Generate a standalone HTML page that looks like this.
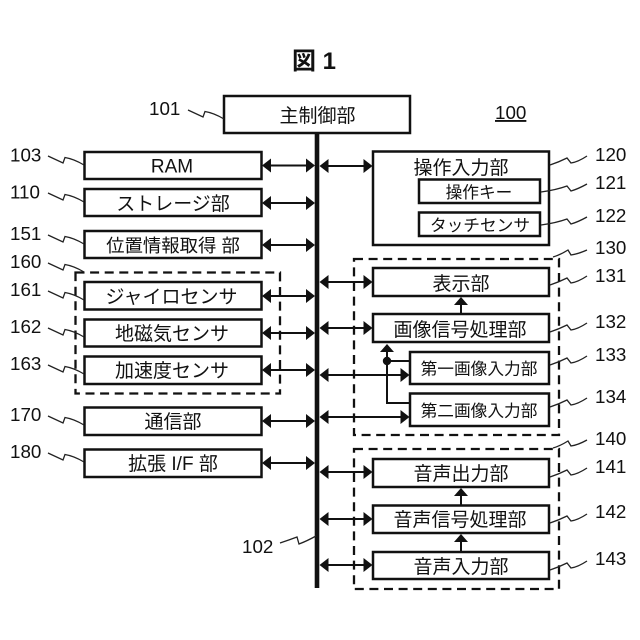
<!DOCTYPE html>
<html><head><meta charset="utf-8"><style>
html,body{margin:0;padding:0;background:#fff}
svg{display:block}
text{font-family:"Liberation Sans","Noto Sans CJK JP",sans-serif;fill:#111}
.b{fill:#fff;stroke:#111;stroke-width:2.5}
.d{fill:none;stroke:#111;stroke-width:2.3;stroke-dasharray:9 5.6}
.l{fill:none;stroke:#111;stroke-width:2}
.z{fill:none;stroke:#222;stroke-width:1.3}
.t{font-size:19px;text-anchor:middle}
.s{font-size:16.7px;text-anchor:middle}
.n{font-size:18.8px}
</style></head><body>
<svg width="640" height="640" viewBox="0 0 640 640" xmlns="http://www.w3.org/2000/svg">
<defs>
<g id="h2"><path d="M0 0l9-7v14zM53 0l-9-7v14z" fill="#111"/><path d="M5 0H48" stroke="#111" stroke-width="2"/></g>
<g id="h3"><path d="M0 0l9-7v14zM90 0l-9-7v14z" fill="#111"/><path d="M5 0H85" stroke="#111" stroke-width="2"/></g>
<path id="zl" d="M0 0L15 7L17 1.5Q26 3 36 9"/>
<path id="zr" d="M0 0Q9-3 17-7L21-2Q28-3 37-9"/>
<path id="zw" d="M0 0Q15-2 26-6L30-1Q37-3 46-8"/>
</defs>
<text x="292" y="69" style="font-size:24px;font-weight:bold">図 1</text>

<rect class="d" x="75.5" y="272.5" width="204.5" height="121"/>
<rect class="d" x="354" y="259" width="205" height="176"/>
<rect class="d" x="354" y="449" width="205" height="140"/>

<rect x="314.7" y="133" width="4.6" height="455" fill="#111"/>
<rect class="b" x="224" y="96" width="186" height="37"/>
<text class="t" x="317.5" y="122">主制御部</text>

<rect class="b" x="84.5" y="152" width="177" height="27"/><text class="t" x="172" y="172.5">RAM</text>
<rect class="b" x="84.5" y="189" width="177" height="27"/><text class="t" x="173" y="210">ストレージ部</text>
<rect class="b" x="84.5" y="231" width="177" height="27"/><text class="t" x="173" y="252" style="font-size:18.4px">位置情報取得 部</text>
<rect class="b" x="84.5" y="282" width="177" height="27.5"/><text class="t" x="171.5" y="303">ジャイロセンサ</text>
<rect class="b" x="84.5" y="319.5" width="177" height="27"/><text class="t" x="172" y="340">地磁気センサ</text>
<rect class="b" x="84.5" y="356.5" width="177" height="27.5"/><text class="t" x="172" y="377">加速度センサ</text>
<rect class="b" x="84.5" y="407.5" width="177" height="27.5"/><text class="t" x="173" y="428">通信部</text>
<rect class="b" x="84.5" y="449.5" width="177" height="27.5"/><text class="t" x="173" y="470">拡張 I/F 部</text>

<use href="#h2" x="262" y="165.5"/><use href="#h2" x="262" y="203"/><use href="#h2" x="262" y="245"/>
<use href="#h2" x="262" y="296"/><use href="#h2" x="262" y="333"/><use href="#h2" x="262" y="370"/>
<use href="#h2" x="262" y="421"/><use href="#h2" x="262" y="463"/>

<rect class="b" x="373" y="151.5" width="176" height="93.5"/>
<text class="t" x="461" y="174">操作入力部</text>
<rect class="b" x="419" y="179.5" width="121" height="23.5"/><text class="s" x="479" y="198">操作キー</text>
<rect class="b" x="419" y="212.5" width="121" height="23.5"/><text class="s" x="480" y="231">タッチセンサ</text>

<rect class="b" x="373" y="268" width="176" height="28"/><text class="t" x="461" y="290">表示部</text>
<rect class="b" x="373" y="314" width="176" height="28"/><text class="t" x="460" y="336">画像信号処理部</text>
<rect class="b" x="410" y="352" width="139" height="32"/><text class="s" x="479" y="374.5">第一画像入力部</text>
<rect class="b" x="410" y="393.5" width="139" height="32.5"/><text class="s" x="479" y="416.5">第二画像入力部</text>

<rect class="b" x="373" y="459" width="176" height="28"/><text class="t" x="461" y="480">音声出力部</text>
<rect class="b" x="373" y="505.5" width="176" height="27.5"/><text class="t" x="460" y="526">音声信号処理部</text>
<rect class="b" x="373" y="552" width="176" height="27"/><text class="t" x="461" y="573">音声入力部</text>

<use href="#h2" x="319.5" y="166"/><use href="#h2" x="319.5" y="282"/><use href="#h2" x="319.5" y="328"/>
<use href="#h2" x="319.5" y="472"/><use href="#h2" x="319.5" y="519"/><use href="#h2" x="319.5" y="565"/>
<use href="#h3" x="319.5" y="375"/><use href="#h3" x="319.5" y="417"/>

<path class="l" d="M461 314V303M461 505V494M461 552V541M387 350V403H410M387 361H410"/>
<path d="M461 297l-7 8h14zM461 488l-7 8h14zM461 534l-7 8h14zM387 344l-7 8h14z" fill="#111"/>
<circle cx="387" cy="361" r="4.2" fill="#111"/>

<g class="n">
<text x="149" y="115">101</text><text x="10" y="161.5">103</text><text x="10" y="198.5">110</text><text x="10" y="240">151</text>
<text x="10" y="268">160</text><text x="10" y="296">161</text><text x="10" y="333">162</text><text x="10" y="370">163</text>
<text x="10" y="421">170</text><text x="10" y="458">180</text><text x="242" y="553">102</text>
<text x="595" y="161">120</text><text x="595" y="189">121</text><text x="595" y="222">122</text><text x="595" y="254">130</text>
<text x="595" y="282">131</text><text x="595" y="328">132</text><text x="595" y="361">133</text><text x="595" y="403">134</text>
<text x="595" y="445">140</text><text x="595" y="473">141</text><text x="595" y="518">142</text><text x="595" y="565">143</text>
<text x="495" y="119" style="text-decoration:underline">100</text>
</g>

<g class="z">
<use href="#zl" x="188" y="110"/><use href="#zl" x="48" y="156"/><use href="#zl" x="48" y="193"/><use href="#zl" x="48" y="235"/>
<use href="#zl" x="48" y="263"/><use href="#zl" x="48" y="291"/><use href="#zl" x="48" y="328"/><use href="#zl" x="48" y="365"/>
<use href="#zl" x="48" y="416"/><use href="#zl" x="48" y="453"/>
<path d="M280 543Q289 540 297 537L299 544Q307 541 316 536"/>
<use href="#zr" x="550" y="165"/><use href="#zw" x="541" y="192"/><use href="#zw" x="541" y="225"/>
<path d="M553 257Q560 255 568 250L571 255Q578 254 587 250"/>
<use href="#zr" x="550" y="285"/><use href="#zr" x="550" y="332"/><use href="#zr" x="550" y="365"/><use href="#zr" x="550" y="407"/>
<path d="M553 448Q560 446 568 441L571 446Q578 445 587 440"/>
<use href="#zr" x="550" y="477"/><use href="#zr" x="550" y="523"/><use href="#zr" x="550" y="570"/>
</g>
</svg>
</body></html>
